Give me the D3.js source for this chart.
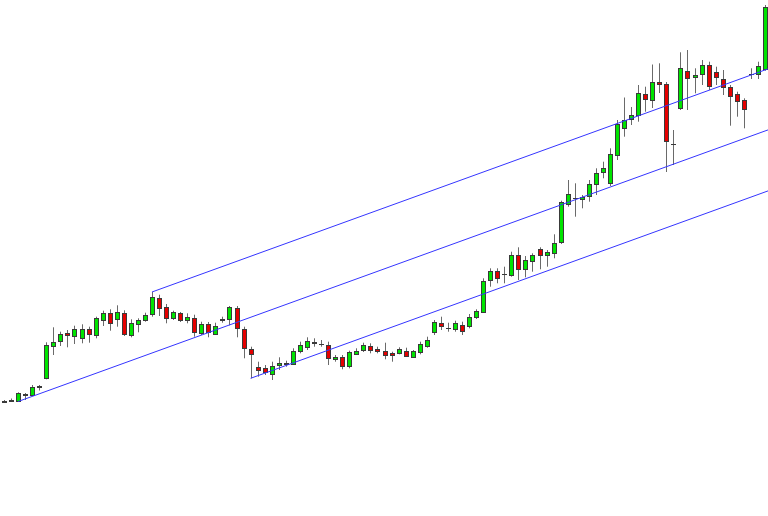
<!DOCTYPE html>
<html>
<head>
<meta charset="utf-8">
<script src="https://cdn.jsdelivr.net/npm/d3@7/dist/d3.min.js"></script>
<style>
  html, body { margin: 0; padding: 0; background: #ffffff; }
  svg { display: block; }
</style>
</head>
<body>
<div id="chart"></div>
<script>
// ---- Data (OHLC) ----
const opens = [99.1,99.75,99.5,102.75,102.75,106.65,110.85,127.35,129.5,133.5,132.0,131.35,135.35,132.65,140.35,143.65,140.35,143.35,132.75,138.35,140.0,143.0,151.15,146.35,140.85,143.35,139.65,141.0,133.35,138.0,133.35,140.25,140.35,145.85,135.35,125.5,116.65,115.85,113.35,117.15,118.25,118.35,124.5,126.65,128.75,127.85,127.5,120.5,121.35,116.65,123.35,124.65,127.15,125.5,124.65,123.35,123.65,124.65,121.65,123.65,127.15,133.65,138.35,135.75,135.5,137.5,136.65,141.35,144.15,160.0,164.5,162.75,162.5,172.5,165.35,169.5,175.35,172.35,173.35,178.85,198.0,201.0,200.35,201.65,208.0,213.85,208.35,222.5,236.0,240.5,242.25,252.85,250.0,258.85,257.85,227.9,245.85,264.65,261.15,262.85,267.35,263.85,260.5,256.65,252.85,250.0,262.75,263.0,265.5];
const highs = [100.0,100.75,103.85,103.5,107.5,107.5,128.85,136.35,134.15,135.0,137.15,137.85,136.65,141.65,144.65,145.35,147.35,144.85,140.35,140.85,143.65,154.0,152.65,148.0,144.65,144.0,143.35,142.65,139.15,139.0,138.65,141.65,147.0,147.0,136.65,126.65,119.15,117.5,119.15,121.35,119.65,125.85,129.15,131.35,130.85,130.0,129.15,122.5,122.5,124.65,125.85,128.65,128.35,126.65,128.65,124.15,126.35,126.15,125.0,129.15,131.65,140.0,141.65,138.65,139.65,139.15,143.0,145.35,160.85,165.85,165.85,166.65,174.15,176.35,172.0,173.35,176.35,175.0,182.85,199.65,210.0,208.35,202.5,210.0,215.85,219.15,225.85,240.0,251.25,246.5,257.5,256.65,267.75,268.35,259.0,235.0,273.85,275.0,265.85,270.0,269.15,266.65,265.0,257.5,254.15,250.85,265.85,269.15,297.5];
const lows = [98.75,99.25,99.25,100.0,102.35,104.75,110.35,122.5,127.0,126.35,128.0,128.35,128.65,130.85,137.0,134.65,136.65,132.0,131.35,133.85,139.15,141.65,142.0,138.35,140.0,139.0,138.35,131.65,132.5,131.35,132.5,138.65,137.35,131.35,120.85,110.85,111.65,112.5,110.0,115.0,116.65,117.5,123.35,125.0,126.65,126.65,117.5,119.15,115.35,115.85,122.5,124.0,123.35,123.35,120.35,119.15,122.85,121.65,121.35,122.85,126.15,132.5,135.0,134.15,134.15,132.5,135.85,140.5,143.5,156.65,158.35,158.35,161.65,160.0,161.35,164.15,165.35,166.65,170.85,178.0,196.65,191.65,195.85,199.15,202.5,210.85,207.0,220.0,231.65,237.5,239.15,244.15,246.0,253.5,214.0,217.5,245.0,245.0,253.35,257.5,255.0,257.5,252.5,237.15,241.65,235.85,260.5,260.5,264.65];
const closes = [99.7,100.15,103.35,103.25,106.5,107.25,127.5,129.15,133.0,132.35,135.35,135.65,133.0,141.0,143.65,138.65,143.85,133.0,138.75,140.15,142.65,151.35,146.35,140.85,143.85,140.0,141.35,133.85,138.0,133.85,137.15,140.5,146.35,135.85,126.0,123.0,115.35,113.65,117.15,118.35,118.5,124.65,127.5,129.5,129.0,128.0,121.15,121.65,116.65,123.85,124.65,127.35,125.35,124.5,122.85,122.15,125.5,122.0,124.5,127.85,130.0,138.85,136.65,135.9,138.35,134.5,141.35,144.5,159.5,164.5,161.15,162.9,172.5,165.35,170.0,172.5,172.5,174.0,178.35,198.85,203.1,201.15,201.35,207.85,213.65,215.85,222.85,237.85,240.0,242.5,253.35,250.5,259.0,257.75,229.25,228.0,265.85,261.15,262.35,267.35,256.65,261.15,256.35,252.0,249.15,245.35,262.9,266.85,296.65];

// Pitchfork pivots: [low, high, low] candle indices
const pivotIndex = [2, 21, 35];
const pivotKind = ["low", "high", "low"];

// Price range shown
const priceDomain = [42, 300];

// ---- Drawing ----
const W = 768, H = 516;
const n = opens.length;
const candles = d3.range(n).map(i => ({
  i, o: opens[i], h: highs[i], l: lows[i], c: closes[i]
}));

const x = d3.scaleLinear().domain([0, n - 1]).range([4, 765]);
const y = d3.scaleLinear().domain(priceDomain).range([H, 0]);

const svg = d3.select("#chart").append("svg")
  .attr("width", W).attr("height", H);

// Candles
const g = svg.append("g");
const px = d => Math.round(x(d.i));

g.selectAll("line.wick").data(candles).join("line")
  .attr("class", "wick")
  .attr("x1", d => px(d) + 0.5).attr("x2", d => px(d) + 0.5)
  .attr("y1", d => y(d.h)).attr("y2", d => y(d.l))
  .attr("stroke", "#6a6a6a").attr("stroke-width", 1);

g.selectAll("rect.body").data(candles).join("rect")
  .attr("class", "body")
  .attr("x", d => px(d) - 1.5)
  .attr("width", 4)
  .attr("y", d => Math.round(y(Math.max(d.o, d.c))) + 0.5)
  .attr("height", d => Math.max(0.01, Math.round(Math.abs(y(d.o) - y(d.c)))))
  .attr("fill", d => d.c >= d.o ? "#00e400" : "#e40000")
  .attr("stroke", "#3a3a3a").attr("stroke-width", 1);

// Andrews' pitchfork from pivots
const pts = pivotIndex.map((idx, k) => ({
  i: idx,
  p: pivotKind[k] === "high" ? highs[idx] : lows[idx]
}));
const mid = { i: (pts[1].i + pts[2].i) / 2, p: (pts[1].p + pts[2].p) / 2 };
const slope = (mid.p - pts[0].p) / (mid.i - pts[0].i);
const iEnd = x.invert(W + 2);

const forkLines = pts.map(pt => ({
  x1: x(pt.i), y1: y(pt.p),
  x2: x(iEnd), y2: y(pt.p + slope * (iEnd - pt.i))
}));

svg.append("g").selectAll("line").data(forkLines).join("line")
  .attr("x1", d => d.x1).attr("y1", d => d.y1)
  .attr("x2", d => d.x2).attr("y2", d => d.y2)
  .attr("stroke", "#3535ff").attr("stroke-width", 1);
</script>
</body>
</html>
